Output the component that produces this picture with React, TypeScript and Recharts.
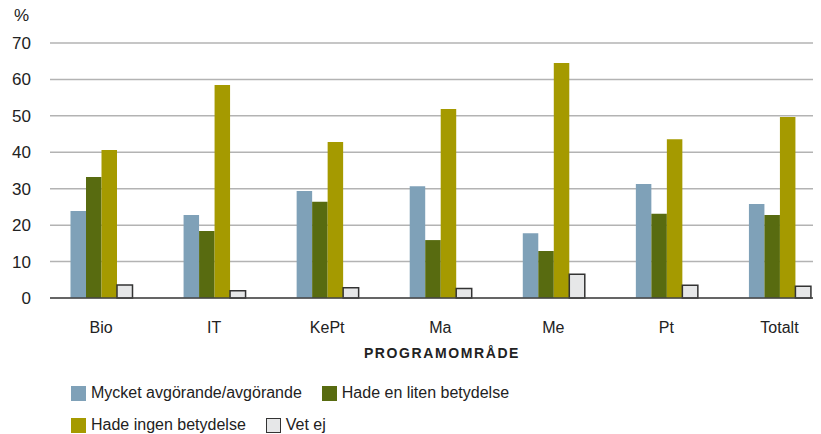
import React from 'react';
import { BarChart, Bar, XAxis, YAxis, CartesianGrid } from 'recharts';

const categories = ['Bio', 'IT', 'KePt', 'Ma', 'Me', 'Pt', 'Totalt'];
const avgorande = [23.9, 22.8, 29.4, 30.7, 17.8, 31.3, 25.8];
const litenBetydelse = [33.2, 18.4, 26.4, 15.9, 12.9, 23.1, 22.8];
const ingenBetydelse = [40.6, 58.5, 42.8, 51.9, 64.5, 43.6, 49.7];
const vetEj = [3.6, 2.0, 2.8, 2.6, 6.5, 3.5, 3.2];
const yTicks = [0, 10, 20, 30, 40, 50, 60, 70];

const SERIES = [
  { key: 'avgorande', name: 'Mycket avgörande/avgörande', fill: '#7fa1b8', stroke: 'none' },
  { key: 'liten', name: 'Hade en liten betydelse', fill: '#586b10', stroke: 'none' },
  { key: 'ingen', name: 'Hade ingen betydelse', fill: '#a59a00', stroke: 'none' },
  { key: 'vetej', name: 'Vet ej', fill: '#e6e7e8', stroke: '#333333' },
];

const data = categories.map((c, i) => ({
  category: c,
  avgorande: avgorande[i],
  liten: litenBetydelse[i],
  ingen: ingenBetydelse[i],
  vetej: vetEj[i],
}));

const SANS = '"Liberation Sans", Arial, sans-serif';

function XTick({ x, y, payload }: any) {
  return (
    <text x={x} y={y + 27} textAnchor="middle" fontFamily={SANS} fontSize={16} fill="#222">
      {payload.value}
    </text>
  );
}

function LegendItem({ color, stroke, label }: { color: string; stroke?: string; label: string }) {
  return (
    <span style={{ display: 'inline-flex', alignItems: 'center', marginRight: 20 }}>
      <span
        style={{
          display: 'inline-block',
          width: stroke ? 13 : 15,
          height: stroke ? 13 : 15,
          background: color,
          border: stroke ? `1px solid ${stroke}` : 'none',
          marginRight: 5,
        }}
      />
      <span>{label}</span>
    </span>
  );
}

export default function App() {
  return (
    <div style={{ position: 'relative', width: 821, height: 434, margin: '-8px 0 0 -8px', overflow: 'hidden', background: '#fff' }}>
      <BarChart
        width={836}
        height={434}
        data={data}
        margin={{ top: 43, right: 0, bottom: 0, left: 0 }}
        barSize={15.5}
        barGap={0}
      >
        <CartesianGrid vertical={false} stroke="#b3b3b3" strokeWidth={1.5} />
        <XAxis
          dataKey="category"
          height={136}
          padding={{ left: -5.5, right: 0 }}
          axisLine={{ stroke: '#444', strokeWidth: 1.5 }}
          tickLine={false}
          tick={<XTick />}
          interval={0}
        />
        <YAxis
          width={50}
          domain={[0, 70]}
          ticks={yTicks}
          axisLine={false}
          tickLine={false}
          tickMargin={13}
          tick={{ fontSize: 17, fill: '#222', fontFamily: SANS }}
        />
        {SERIES.map((s) => (
          <Bar
            key={s.key}
            dataKey={s.key}
            name={s.name}
            fill={s.fill}
            stroke={s.stroke}
            strokeWidth={s.stroke === 'none' ? 0 : 1.5}
            isAnimationActive={false}
          />
        ))}
      </BarChart>
      <div style={{ position: 'absolute', left: 14, top: 6, fontSize: 17, color: '#222', fontFamily: SANS }}>%</div>
      <div
        style={{
          position: 'absolute',
          left: 0,
          width: 884,
          top: 345,
          textAlign: 'center',
          fontFamily: SANS,
          fontWeight: 'bold',
          fontSize: 14,
          letterSpacing: 1.6,
          color: '#222',
        }}
      >
        PROGRAMOMRÅDE
      </div>
      <div style={{ position: 'absolute', left: 71, top: 377, fontFamily: SANS, fontSize: 16, color: '#222', lineHeight: '32px' }}>
        <div style={{ height: 32 }}>
          <LegendItem color={SERIES[0].fill} label={SERIES[0].name} />
          <LegendItem color={SERIES[1].fill} label={SERIES[1].name} />
        </div>
        <div style={{ height: 32 }}>
          <LegendItem color={SERIES[2].fill} label={SERIES[2].name} />
          <LegendItem color={SERIES[3].fill} stroke="#333" label={SERIES[3].name} />
        </div>
      </div>
    </div>
  );
}
